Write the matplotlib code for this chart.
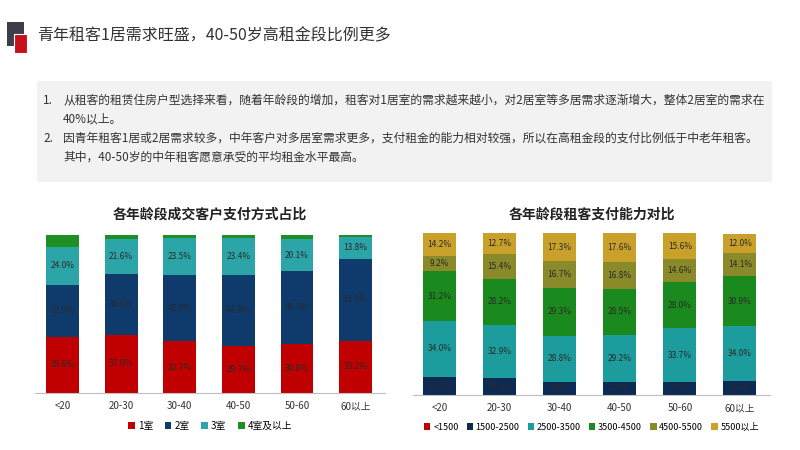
import numpy as np
import matplotlib
matplotlib.use("Agg")
import matplotlib.pyplot as plt
from matplotlib.patches import Rectangle

plt.rcParams['font.family'] = ['Noto Sans CJK SC', 'DejaVu Sans']

ages = ["<20", "20-30", "30-40", "40-50", "50-60", "60以上"]

# left chart: room types
room_names = ["1室", "2室", "3室", "4室及以上"]
room_1 = [35.6, 37.0, 32.7, 29.7, 30.8, 33.2]
room_2 = [32.9, 38.6, 42.0, 44.9, 46.3, 51.9]
room_3 = [24.0, 21.6, 23.5, 23.4, 20.1, 13.8]
room_4 = [7.5, 2.8, 1.8, 2.0, 2.8, 1.1]
room_colors = ["#C00000", "#0F3A6C", "#2BA5A8", "#1E8F22"]

# right chart: rent levels
rent_names = ["<1500", "1500-2500", "2500-3500", "3500-4500", "4500-5500", "5500以上"]
rent_lt1500 = [0.1, 0.1, 0.1, 0.1, 0.1, 0.1]
rent_1500 = [11.3, 10.5, 7.8, 7.7, 7.7, 8.4]
rent_2500 = [34.0, 32.9, 28.8, 29.2, 33.7, 34.0]
rent_3500 = [31.2, 28.2, 29.3, 28.5, 28.0, 30.9]
rent_4500 = [9.2, 15.4, 16.7, 16.8, 14.6, 14.1]
rent_5500 = [14.2, 12.7, 17.3, 17.6, 15.6, 12.0]
rent_colors = ["#C00000", "#0D2A55", "#1C9C9C", "#1B8A1E", "#8A8A2A", "#C9A12A"]

fig = plt.figure(figsize=(8, 4.5), dpi=100)
fig.patch.set_facecolor("white")

# header squares and title
fig.patches.append(Rectangle((7/800, 1-46/450), 17/800, 24/450, transform=fig.transFigure,
                             facecolor="#3C3F4A", edgecolor="none"))
fig.patches.append(Rectangle((14/800, 1-53/450), 13/800, 19/450, transform=fig.transFigure,
                             facecolor="#C8101A", edgecolor="white", linewidth=0.8))
fig.text(37/800, 1-36/450, "青年租客1居需求旺盛，40-50岁高租金段比例更多",
         fontsize=11.5, color="#333333", va="center")

# grey text box
fig.patches.append(Rectangle((37/800, 1-182/450), 735/800, 101/450, transform=fig.transFigure,
                             facecolor="#F2F2F2", edgecolor="none"))
lines = [
    (100, "1.", "从租客的租赁住房户型选择来看，随着年龄段的增加，租客对1居室的需求越来越小，对2居室等多居需求逐渐增大，整体2居室的需求在"),
    (119, "", "40%以上。"),
    (138, "2.", "因青年租客1居或2居需求较多，中年客户对多居室需求更多，支付租金的能力相对较强，所以在高租金段的支付比例低于中老年租客。"),
    (157, "", "其中，40-50岁的中年租客愿意承受的平均租金水平最高。"),
]
for y, num, txt in lines:
    if num:
        fig.text(43/800, 1-y/450, num, fontsize=8.5, color="#333333", va="center")
    fig.text(63/800, 1-y/450, txt, fontsize=8.5, color="#333333", va="center")


def stacked(ax, series, colors, names, label_mask, width):
    x = np.arange(len(ages))
    bottom = np.zeros(len(ages))
    for s, c, n, show in zip(series, colors, names, label_mask):
        s = np.array(s)
        ax.bar(x, s, width, bottom=bottom, color=c, label=n, edgecolor="none")
        if show:
            for xi, b, v in zip(x, bottom, s):
                ax.text(xi, b + v / 2, f"{v:.1f}%", ha="center", va="center",
                        fontsize=6, color="#2A2A2A")
        bottom += s
    ax.set_ylim(0, 100)
    ax.set_xticks(x)
    ax.set_xticklabels(ages, fontsize=7, color="#333333")
    ax.tick_params(axis="x", length=0, pad=6)
    ax.set_yticks([])
    for sp in ["top", "right", "left"]:
        ax.spines[sp].set_visible(False)
    ax.spines["bottom"].set_color("#BFBFBF")
    ax.set_facecolor("none")


ax1 = fig.add_axes([35/800, 57/450, 350/800, 158/450])
stacked(ax1, [room_1, room_2, room_3, room_4], room_colors, room_names,
        [True, True, True, False], 0.56)
ax1.set_xlim(-0.47, 5.5)
ax1.set_title("各年龄段成交客户支付方式占比", fontsize=10, fontweight="bold",
              color="#222222", pad=12)
ax1.legend(loc="upper center", bbox_to_anchor=(0.5, -0.12), ncol=4, frameon=False,
           fontsize=7, handlelength=0.7, handleheight=0.7, handletextpad=0.3,
           columnspacing=1.2)

ax2 = fig.add_axes([413/800, 55/450, 357/800, 162/450])
stacked(ax2, [rent_lt1500, rent_1500, rent_2500, rent_3500, rent_4500, rent_5500],
        rent_colors, rent_names, [False, True, True, True, True, True], 0.55)
ax2.set_xlim(-0.44, 5.5)
ax2.set_title("各年龄段租客支付能力对比", fontsize=10, fontweight="bold",
              color="#222222", pad=10)
ax2.legend(loc="upper center", bbox_to_anchor=(0.5, -0.12), ncol=6, frameon=False,
           fontsize=6.5, handlelength=0.7, handleheight=0.7, handletextpad=0.3,
           columnspacing=0.9)

fig.savefig("out.png", dpi=100)
